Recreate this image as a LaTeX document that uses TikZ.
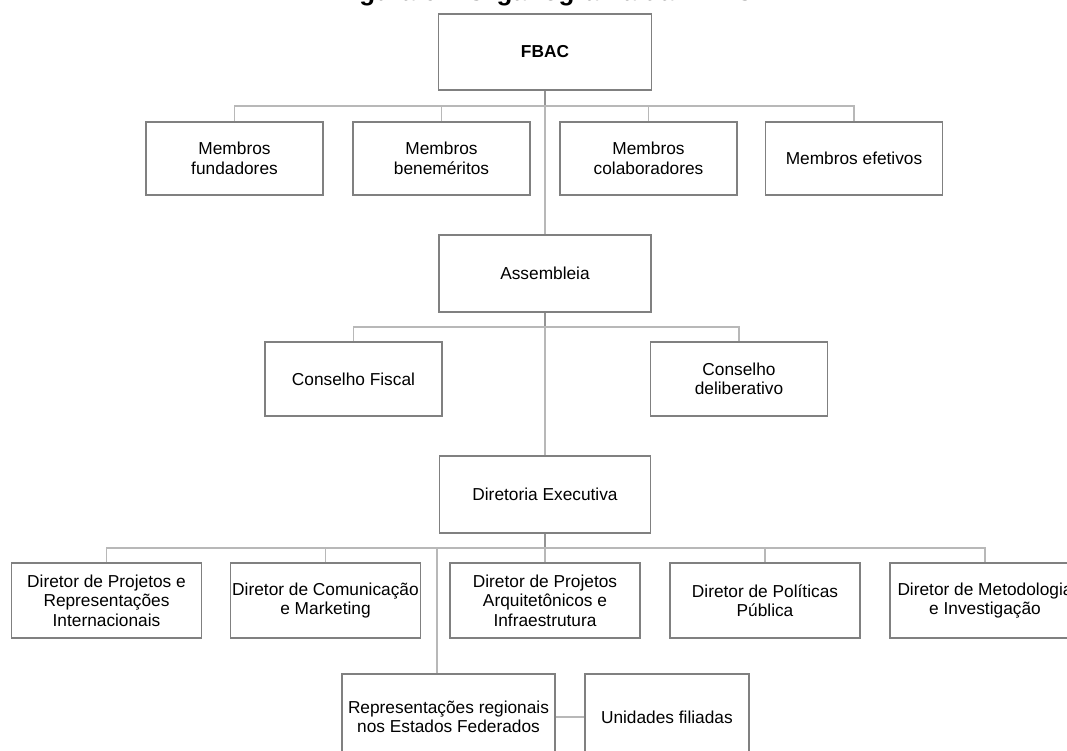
\documentclass[tikz,border=0pt]{standalone}
\usepackage{fontspec}
\setmainfont{Liberation Sans}
\usetikzlibrary{positioning}

\begin{document}
\begin{tikzpicture}[x=1pt, y=-1pt,
    box/.style={rectangle, draw=black!50, line width=1.9pt, fill=white, align=center,
        inner sep=0pt, minimum width=177pt, minimum height=73pt,
        font=\fontsize{17.3}{19.5}\selectfont},
    link/.style={draw=black!28, line width=1.3pt},
    stem/.style={draw=black!42, line width=1.6pt}]

\useasboundingbox (0,0) rectangle (1067,751);

% Title (cut off by the page)
\node[anchor=base, font=\bfseries\fontsize{26}{30}\selectfont] (title) at (545,0.5) {Figura 6 – Organograma da FBAC};

% FBAC
\node[box, font=\bfseries\fontsize{17.3}{19.5}\selectfont, minimum width=213pt, minimum height=76pt] (fbac) at (545,52) {FBAC};

% Members
\foreach \i/\x/\txt in {1/234.5/{Membros\\fundadores}, 2/441.5/{Membros\\beneméritos},
                        3/648.5/{Membros\\colaboradores}, 4/854/{Membros efetivos}} {
    \node[box] (m\i) at (\x,158.5) {\txt};
}

% Assembly and councils
\node[box, minimum width=212pt, minimum height=77pt] (assem) at (545,273.5) {Assembleia};
\node[box, minimum height=74pt] (cf) at (353.5,379) {Conselho Fiscal};
\node[box, minimum height=74pt] (cd) at (739,379) {Conselho\\deliberativo};

% Executive board
\node[box, minimum width=211pt, minimum height=77pt] (dir) at (545,494.5) {Diretoria Executiva};

% Directors
\foreach \i/\x/\txt in {1/106.5/{Diretor de Projetos e\\Representações\\Internacionais},
                        2/325.5/{Diretor de Comunicação\\e Marketing},
                        3/545/{Diretor de Projetos\\Arquitetônicos e\\Infraestrutura},
                        4/765/{Diretor de Políticas\\Pública},
                        5/985/{Diretor de Metodologia\\e Investigação}} {
    \node[box, minimum width=190pt, minimum height=75pt] (d\i) at (\x,600.5) {\txt};
}

% Regional units
\node[box, minimum width=213pt, minimum height=86pt] (rep) at (448.5,717) {Representações regionais\\nos Estados Federados};
\node[box, minimum width=164pt, minimum height=86pt, right=28pt of rep] (uni) {Unidades filiadas};

% Connections FBAC -> members
\coordinate (bus1) at (545,106);
\draw[stem] (fbac.south) -- (bus1);
\foreach \i in {1,...,4} {
    \draw[link] (m\i.north) |- (bus1);
}
\draw[link] (bus1) -- (assem.north);

% Connections assembly -> councils
\coordinate (bus2) at (545,327);
\draw[stem] (assem.south) -- (bus2);
\draw[link] (cf.north) |- (bus2);
\draw[link] (cd.north) |- (bus2);
\draw[link] (bus2) -- (dir.north);

% Connections executive board -> directors
\coordinate (bus3) at (545,548);
\draw[stem] (dir.south) -- (bus3);
\foreach \i in {1,...,5} {
    \draw[link] (d\i.north) |- (bus3);
}
\coordinate (rtap) at (437,548);
\draw[link] (rtap) -- (rtap |- rep.north);
\draw[link] (rep) -- (uni);

\end{tikzpicture}
\end{document}
